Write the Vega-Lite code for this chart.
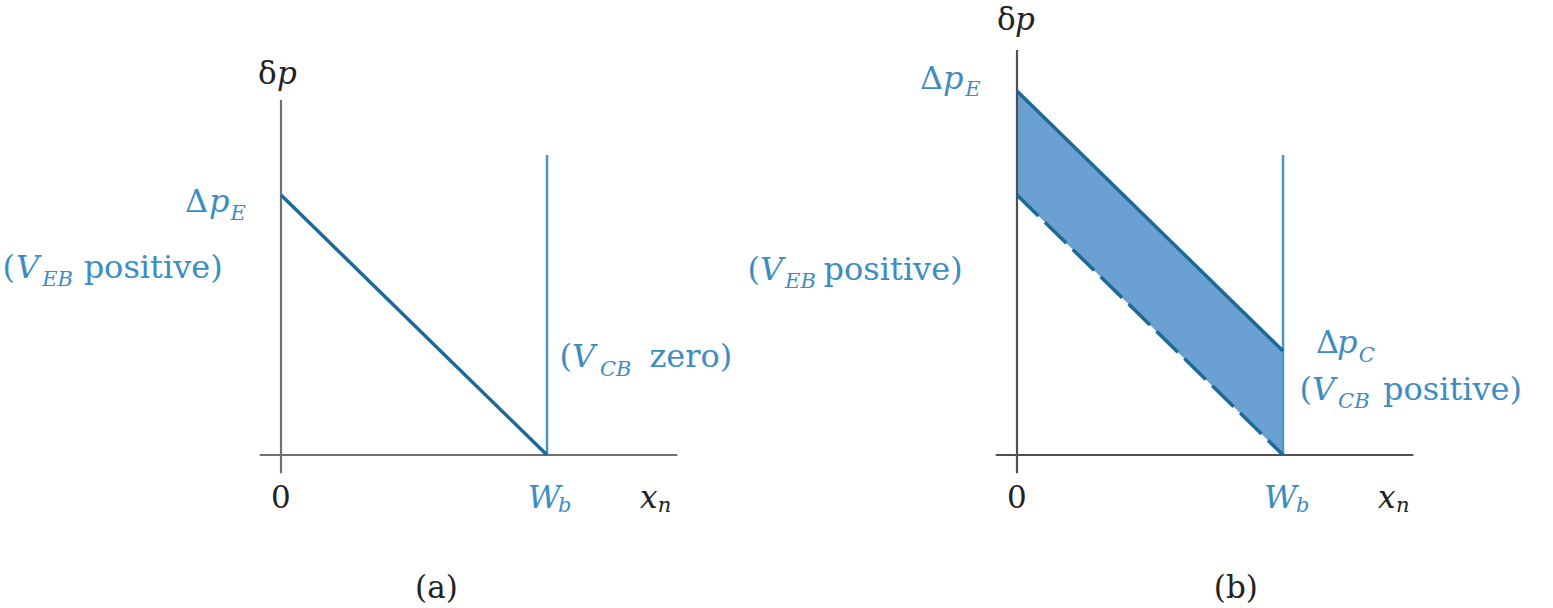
{
  "$schema": "https://vega.github.io/schema/vega-lite/v6.json",
  "padding": 0,
  "autosize": {"type": "pad"},
  "spacing": 0,
  "bounds": "flush",
  "background": "white",
  "config": {
    "view": {"stroke": null},
    "text": {"font": "DejaVu Serif", "align": "left", "baseline": "alphabetic"}
  },
  "resolve": {"scale": {"x": "independent", "y": "independent"}},
  "datasets": {
    "axes_a": [
      {"x": -0.08, "y": 0, "x2": 1.49, "y2": 0},
      {"x": 0, "y": -0.07, "x2": 0, "y2": 1.365}
    ],
    "axes_b": [
      {"x": -0.08, "y": 0, "x2": 1.49, "y2": 0},
      {"x": 0, "y": -0.07, "x2": 0, "y2": 1.558}
    ],
    "wb": [{"x": 1, "y": 0, "x2": 1, "y2": 1.154}],
    "profile_a": [{"x": 0, "y": 1.0, "x2": 1, "y2": 0}],
    "profile_b_top": [{"x": 0, "y": 1.4, "x2": 1, "y2": 0.4}],
    "profile_b_low": [{"x": 0, "y": 1.0, "x2": 1, "y2": 0}],
    "band_b": [
      {"x": 0, "y": 1.0, "y2": 1.4},
      {"x": 1, "y": 0, "y2": 0.4}
    ],
    "blue_a": [
      {"x": -0.361, "y": 0.935, "t": "Δ"},
      {"x": -1.047, "y": 0.681, "t": "("},
      {"x": -0.742, "y": 0.681, "t": "positive)"},
      {"x": 1.047, "y": 0.338, "t": "("},
      {"x": 1.385, "y": 0.338, "t": "zero)"}
    ],
    "blue_it_a": [
      {"x": -0.271, "y": 0.935, "t": "p"},
      {"x": -0.996, "y": 0.681, "t": "V"},
      {"x": 1.094, "y": 0.338, "t": "V"},
      {"x": 0.928, "y": -0.204, "t": "W"}
    ],
    "blue_sub_a": [
      {"x": -0.19, "y": 0.904, "t": "E"},
      {"x": -0.898, "y": 0.65, "t": "EB"},
      {"x": 1.199, "y": 0.304, "t": "CB"},
      {"x": 1.041, "y": -0.22, "t": "b"}
    ],
    "black_a": [
      {"x": -0.0865, "y": 1.427, "t": "δ"},
      {"x": -0.038, "y": -0.204, "t": "0"},
      {"x": 0.504, "y": -0.55, "t": "(a)"}
    ],
    "black_it_a": [
      {"x": -0.015, "y": 1.427, "t": "p"},
      {"x": 1.35, "y": -0.204, "t": "x"}
    ],
    "black_sub_a": [{"x": 1.416, "y": -0.22, "t": "n"}],
    "blue_b": [
      {"x": -0.365, "y": 1.408, "t": "Δ"},
      {"x": -1.013, "y": 0.673, "t": "("},
      {"x": -0.727, "y": 0.673, "t": "positive)"},
      {"x": 1.124, "y": 0.392, "t": "Δ"},
      {"x": 1.062, "y": 0.212, "t": "("},
      {"x": 1.376, "y": 0.212, "t": "positive)"}
    ],
    "blue_it_b": [
      {"x": -0.278, "y": 1.408, "t": "p"},
      {"x": -0.966, "y": 0.673, "t": "V"},
      {"x": 1.203, "y": 0.392, "t": "p"},
      {"x": 1.109, "y": 0.212, "t": "V"},
      {"x": 0.929, "y": -0.204, "t": "W"}
    ],
    "blue_sub_b": [
      {"x": -0.195, "y": 1.381, "t": "E"},
      {"x": -0.872, "y": 0.642, "t": "EB"},
      {"x": 1.285, "y": 0.358, "t": "C"},
      {"x": 1.207, "y": 0.181, "t": "CB"},
      {"x": 1.049, "y": -0.22, "t": "b"}
    ],
    "black_b": [
      {"x": -0.075, "y": 1.635, "t": "δ"},
      {"x": -0.038, "y": -0.204, "t": "0"},
      {"x": 0.74, "y": -0.55, "t": "(b)"}
    ],
    "black_it_b": [
      {"x": -0.0075, "y": 1.635, "t": "p"},
      {"x": 1.357, "y": -0.204, "t": "x"}
    ],
    "black_sub_b": [{"x": 1.425, "y": -0.22, "t": "n"}]
  },
  "hconcat": [
    {
      "width": 736,
      "height": 608,
      "encoding": {
        "x": {"field": "x", "type": "quantitative", "axis": null, "scale": {"domain": [-1.05639, 1.71053], "nice": false, "zero": false}},
        "y": {"field": "y", "type": "quantitative", "axis": null, "scale": {"domain": [-0.58846, 1.75], "nice": false, "zero": false}}
      },
      "layer": [
        {"data": {"name": "wb"}, "mark": {"type": "rule", "color": "#4b96c8", "strokeWidth": 2.5}, "encoding": {"x2": {"field": "x2"}, "y2": {"field": "y2"}}},
        {"data": {"name": "axes_a"}, "mark": {"type": "rule", "color": "#707070", "strokeWidth": 2.2}, "encoding": {"x2": {"field": "x2"}, "y2": {"field": "y2"}}},
        {"data": {"name": "profile_a"}, "mark": {"type": "rule", "color": "#1d6a98", "strokeWidth": 3.5}, "encoding": {"x2": {"field": "x2"}, "y2": {"field": "y2"}}},
        {"data": {"name": "blue_a"}, "mark": {"type": "text", "fontSize": 32, "color": "#3d8dc2"}, "encoding": {"text": {"field": "t"}}},
        {"data": {"name": "blue_it_a"}, "mark": {"type": "text", "fontSize": 32, "fontStyle": "italic", "color": "#3d8dc2"}, "encoding": {"text": {"field": "t"}}},
        {"data": {"name": "blue_sub_a"}, "mark": {"type": "text", "fontSize": 21, "fontStyle": "italic", "color": "#3d8dc2"}, "encoding": {"text": {"field": "t"}}},
        {"data": {"name": "black_a"}, "mark": {"type": "text", "fontSize": 31, "color": "#222222"}, "encoding": {"text": {"field": "t"}}},
        {"data": {"name": "black_it_a"}, "mark": {"type": "text", "fontSize": 31, "fontStyle": "italic", "color": "#222222"}, "encoding": {"text": {"field": "t"}}},
        {"data": {"name": "black_sub_a"}, "mark": {"type": "text", "fontSize": 21, "fontStyle": "italic", "color": "#222222"}, "encoding": {"text": {"field": "t"}}}
      ]
    },
    {
      "width": 817,
      "height": 608,
      "encoding": {
        "x": {"field": "x", "type": "quantitative", "axis": null, "scale": {"domain": [-1.05639, 2.01504], "nice": false, "zero": false}},
        "y": {"field": "y", "type": "quantitative", "axis": null, "scale": {"domain": [-0.58846, 1.75], "nice": false, "zero": false}}
      },
      "layer": [
        {"data": {"name": "band_b"}, "mark": {"type": "area", "color": "#6aa0d2", "opacity": 1}, "encoding": {"y2": {"field": "y2"}}},
        {"data": {"name": "wb"}, "mark": {"type": "rule", "color": "#4b96c8", "strokeWidth": 2.5}, "encoding": {"x2": {"field": "x2"}, "y2": {"field": "y2"}}},
        {"data": {"name": "axes_b"}, "mark": {"type": "rule", "color": "#505050", "strokeWidth": 2.2}, "encoding": {"x2": {"field": "x2"}, "y2": {"field": "y2"}}},
        {"data": {"name": "profile_b_top"}, "mark": {"type": "rule", "color": "#1d6a98", "strokeWidth": 3.5}, "encoding": {"x2": {"field": "x2"}, "y2": {"field": "y2"}}},
        {"data": {"name": "profile_b_low"}, "mark": {"type": "rule", "color": "#1d6a98", "strokeWidth": 3.5, "strokeDash": [30, 9]}, "encoding": {"x2": {"field": "x2"}, "y2": {"field": "y2"}}},
        {"data": {"name": "blue_b"}, "mark": {"type": "text", "fontSize": 32, "color": "#3d8dc2"}, "encoding": {"text": {"field": "t"}}},
        {"data": {"name": "blue_it_b"}, "mark": {"type": "text", "fontSize": 32, "fontStyle": "italic", "color": "#3d8dc2"}, "encoding": {"text": {"field": "t"}}},
        {"data": {"name": "blue_sub_b"}, "mark": {"type": "text", "fontSize": 21, "fontStyle": "italic", "color": "#3d8dc2"}, "encoding": {"text": {"field": "t"}}},
        {"data": {"name": "black_b"}, "mark": {"type": "text", "fontSize": 31, "color": "#222222"}, "encoding": {"text": {"field": "t"}}},
        {"data": {"name": "black_it_b"}, "mark": {"type": "text", "fontSize": 31, "fontStyle": "italic", "color": "#222222"}, "encoding": {"text": {"field": "t"}}},
        {"data": {"name": "black_sub_b"}, "mark": {"type": "text", "fontSize": 21, "fontStyle": "italic", "color": "#222222"}, "encoding": {"text": {"field": "t"}}}
      ]
    }
  ]
}
